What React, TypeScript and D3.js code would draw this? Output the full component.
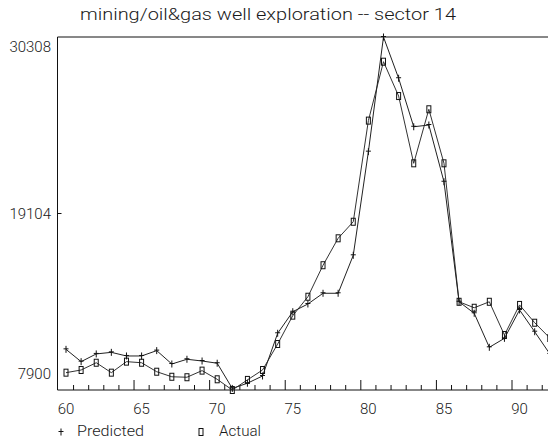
import React from "react";
import * as d3 from "d3";

// Yearly series, 1960–1992
const years: number[] = d3.range(60, 93);

const predicted: number[] = [
  10480, 9700, 10190, 10290, 10060, 10060, 10400, 9550, 9850, 9740, 9600,
  8000, 8330, 8790, 11500, 12870, 13360, 14040, 14040, 16450, 23030,
  30308, 27690, 24610, 24720, 21120, 13500, 12770, 10610, 11180, 12980,
  11600, 10190,
];

const actual: number[] = [
  9000, 9170, 9630, 9000, 9700, 9630, 9060, 8740, 8710, 9130, 8580,
  7900, 8540, 9170, 10820, 12620, 13820, 15820, 17530, 18580, 25000,
  28740, 26560, 22290, 25720, 22290, 13500, 13120, 13500, 11390, 13300,
  12170, 11200,
];

const yTickValues: number[] = [7900, 19104, 30308];
const xTickLabels: number[] = [60, 65, 70, 75, 80, 85, 90];
const title = "mining/oil&gas well exploration -- sector 14";
const legendLabels = ["Predicted", "Actual"];

const W = 548;
const H = 440;
const left = 57.5;
const top = 37;
const bottom = 390;

const x = d3.scaleLinear().domain([60, 92]).range([66, 549.8]);
const y = d3.scaleLinear().domain([7900, 30308]).range([bottom, top]);

const font = "Roboto, 'DejaVu Sans', sans-serif";
const ink = "#111";
const textInk = "#1a1a1a";

function Plus({ cx, cy }: { cx: number; cy: number }) {
  return (
    <g stroke={ink} strokeWidth={1}>
      <line x1={cx} x2={cx} y1={cy - 3.5} y2={cy + 3.5} />
      <line x1={cx - 2.5} x2={cx + 2.5} y1={cy - 0.5} y2={cy - 0.5} />
    </g>
  );
}

function Box({ cx, cy }: { cx: number; cy: number }) {
  return (
    <rect
      x={cx - 2}
      y={cy - 3.5}
      width={4}
      height={7}
      fill="none"
      stroke={ink}
      strokeWidth={1}
    />
  );
}

export default function App() {
  const line = d3
    .line<number>()
    .x((_, i) => x(years[i]))
    .y((v) => y(v));

  // minor ticks sit between years; every fifth one is longer
  const tickPos = d3.range(60, 92).map((k) => k + 0.5);

  const yLabelY = (v: number) => {
    if (v === yTickValues[0]) return y(v) - 16;
    if (v === yTickValues[2]) return y(v) + 10;
    return y(v);
  };

  return (
    <svg
      width={W}
      height={H}
      style={{ position: "absolute", left: 0, top: 0, background: "#fff" }}
      fontFamily={font}
      fontWeight={300}
    >
      <rect width={W} height={H} fill="#fff" />
      <text
        x={268}
        y={14}
        textAnchor="middle"
        dominantBaseline="central"
        fontSize={17}
        fill={textInk}
        textLength={376}
        lengthAdjust="spacingAndGlyphs"
      >
        {title}
      </text>

      {/* frame */}
      <g stroke={ink} strokeWidth={1} fill="none">
        <line x1={left} x2={W} y1={top} y2={top} />
        <line x1={left} x2={left} y1={top} y2={bottom} />
        <line x1={left} x2={W} y1={bottom} y2={bottom} />
        {tickPos.map((t) => (
          <line
            key={t}
            x1={x(t)}
            x2={x(t)}
            y1={bottom}
            y2={bottom - ((t + 0.5) % 5 === 0 ? 10 : 5)}
          />
        ))}
        <line x1={left} x2={left + 4} y1={y(yTickValues[1])} y2={y(yTickValues[1])} />
      </g>

      {/* y labels */}
      {yTickValues.map((v) => (
        <text
          key={v}
          x={51}
          y={yLabelY(v)}
          textAnchor="end"
          dominantBaseline="central"
          fontSize={15}
          fill={textInk}
        >
          {v}
        </text>
      ))}

      {/* x labels */}
      {xTickLabels.map((v) => (
        <text
          key={v}
          x={x(v)}
          y={409}
          textAnchor="middle"
          dominantBaseline="central"
          fontSize={15}
          fill={textInk}
        >
          {v}
        </text>
      ))}

      {/* series */}
      <g clipPath="url(#plotClip)">
        <defs>
          <clipPath id="plotClip">
            <rect x={0} y={0} width={W} height={H} />
          </clipPath>
        </defs>
        <path d={line(actual) ?? ""} fill="none" stroke="#333" strokeWidth={1} />
        <path d={line(predicted) ?? ""} fill="none" stroke="#222" strokeWidth={1} />
        {actual.map((v, i) => (
          <Box key={"a" + i} cx={x(years[i])} cy={y(v)} />
        ))}
        {predicted.map((v, i) => (
          <Plus key={"p" + i} cx={x(years[i])} cy={y(v)} />
        ))}
      </g>

      {/* legend */}
      <Plus cx={61} cy={432} />
      <text
        x={77}
        y={431}
        dominantBaseline="central"
        fontSize={15}
        fill={textInk}
        textLength={67}
        lengthAdjust="spacingAndGlyphs"
      >
        {legendLabels[0]}
      </text>
      <Box cx={201} cy={432} />
      <text
        x={219}
        y={431}
        dominantBaseline="central"
        fontSize={15}
        fill={textInk}
        textLength={42}
        lengthAdjust="spacingAndGlyphs"
      >
        {legendLabels[1]}
      </text>
    </svg>
  );
}
